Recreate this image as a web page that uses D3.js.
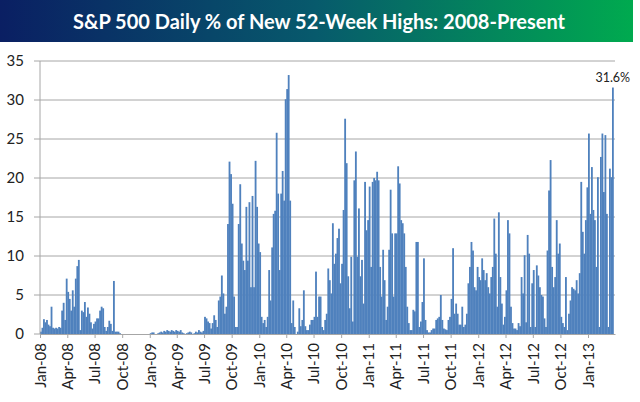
<!DOCTYPE html>
<html>
<head>
<meta charset="utf-8">
<script src="https://cdn.jsdelivr.net/npm/d3@7/dist/d3.min.js"></script>
<style>
    body { margin: 0; background: #fff; }
    svg { display: block; font-family: Lato, "Open Sans", sans-serif; }
</style>
</head>
<body>
<div id="chart"></div>
<script>
// % of S&P 500 stocks at a new 52-week high.
// 18 readings per quarter (Jan-Mar, Apr-Jun, Jul-Sep, Oct-Dec), 2013 stops mid March
const pct2008 = [
    0.3, 0.8, 1.9, 1.5, 1.8, 1.2, 1.0, 3.5, 0.8, 0.7, 0.8, 0.7, 0.9, 0.8, 3.0, 4.0, 1.8, 7.1,
    5.4, 4.5, 3.0, 5.6, 3.5, 7.1, 8.7, 9.5, 0.5, 3.0, 2.8, 4.1, 2.2, 3.4, 2.6, 1.5, 0.7, 1.3,
    1.6, 2.0, 2.0, 3.0, 3.5, 3.3, 0.9, 0.4, 0.9, 1.7, 1.3, 0.4, 6.8, 0.3, 0.3, 0.3, 0.1, 0,
    0, 0, 0, 0, 0, 0, 0, 0, 0, 0, 0, 0, 0, 0, 0, 0, 0, 0
]
const pct2009 = [
    0.1, 0.2, 0.2, 0, 0, 0.1, 0.2, 0.3, 0.2, 0.4, 0.3, 0.5, 0.4, 0.3, 0.5, 0.4, 0.3, 0.5,
    0.4, 0.3, 0.5, 0.2, 0.1, 0, 0.1, 0.2, 0.3, 0.2, 0, 0.1, 0.3, 0.2, 0.5, 0.3, 0.2, 0.4,
    2.2, 2.0, 1.6, 1.4, 0.7, 1.4, 2.4, 1.8, 0.9, 4.3, 4.8, 7.5, 5.2, 2.6, 3.5, 14.1, 22.1, 20.5,
    16.7, 4.8, 0.9, 0.9, 14.1, 19.2, 11.6, 9.4, 8.2, 16.3, 9.4, 16.9, 6.0, 17.7, 6.0, 22.2, 16.3, 11.6
]
const pct2010 = [
    10.5, 2.2, 1.4, 1.8, 0.9, 2.2, 8.2, 4.3, 11.1, 15.4, 15.8, 25.8, 18.0, 8.2, 18.0, 20.9, 17.1, 30.1,
    31.4, 33.2, 17.1, 1.4, 4.3, 0.9, 0.0, 0.3, 3.3, 1.0, 1.8, 5.6, 1.0, 0.5, 0.5, 1.2, 1.8, 1.8,
    2.2, 8.0, 2.2, 4.8, 4.8, 0.9, 0.5, 1.8, 2.6, 8.4, 6.9, 5.2, 14.2, 9.0, 10.3, 12.3, 13.5, 6.5,
    9.0, 15.9, 27.6, 21.9, 7.4, 3.3, 9.9, 1.6, 19.7, 23.4, 9.9, 16.1, 7.4, 9.5, 3.9, 19.5, 13.3, 14.6
]
const pct2011 = [
    18.9, 8.6, 19.5, 20.0, 19.7, 20.8, 19.7, 8.6, 4.8, 10.8, 6.9, 1.8, 3.5, 10.8, 18.5, 12.9, 4.8, 12.9,
    12.9, 21.5, 19.3, 14.6, 14.2, 12.9, 8.6, 3.5, 1.4, 0.5, 0.5, 3.1, 2.9, 11.8, 11.8, 0.9, 1.6, 4.1,
    9.7, 1.8, 0.5, 0.2, 0.2, 0.5, 0.7, 0.7, 1.8, 2.0, 2.2, 5.0, 1.8, 0.7, 0.6, 0.5, 1.8, 2.2,
    4.5, 11.0, 2.6, 3.9, 2.6, 1.2, 1.2, 3.5, 0.9, 1.2, 2.6, 6.5, 8.6, 11.8, 10.7, 6.0, 5.6, 8.6
]
const pct2012 = [
    7.3, 6.9, 9.7, 8.2, 6.9, 7.8, 6.0, 5.2, 7.3, 8.6, 14.8, 10.3, 3.5, 15.6, 7.3, 3.9, 1.2, 2.2,
    5.6, 14.6, 12.9, 3.5, 1.4, 0.7, 0.7, 0.5, 1.4, 1.0, 7.3, 5.2, 10.1, 1.5, 12.7, 10.3, 0.9, 6.5,
    8.2, 0.9, 8.8, 7.5, 6.0, 5.0, 4.8, 2.0, 0.9, 10.7, 18.4, 22.3, 8.6, 6.0, 7.3, 14.6, 10.3, 11.6,
    2.2, 1.4, 0.9, 7.3, 0.5, 2.6, 4.3, 6.0, 5.8, 5.6, 6.9, 5.2, 7.8, 19.5, 13.1, 10.3, 14.6, 18.8
]
const pct2013 = [
    25.7, 15.4, 21.4, 15.9, 14.6, 8.6, 20.1, 0.9, 22.7, 25.7, 18.2, 25.5, 15.4, 0.9, 21.2, 20.1, 31.6
]

const yTicks = [0, 5, 10, 15, 20, 25, 30, 35]
const lastLabel = "31.6%"
const title = "S&P 500 Daily % of New 52-Week Highs: 2008-Present"


class HighsChart {
    constructor(parentElement, series) {
        this.parentElement = parentElement;
        this.series = series;
        this.perQuarter = 18;
    }

    initVis() {
        let vis = this;
        vis.width = 640;
        vis.height = 402;
        vis.margin = {top: 61, right: 25, bottom: 68, left: 40};

        vis.svg = d3.select("#" + vis.parentElement).append("svg")
            .attr("width", vis.width)
            .attr("height", vis.height)

        // title banner
        let grad = vis.svg.append("defs").append("linearGradient")
            .attr("id", "banner")
        grad.append("stop").attr("offset", "0%").attr("stop-color", "#0a1f63")
        grad.append("stop").attr("offset", "50%").attr("stop-color", "#075a6c")
        grad.append("stop").attr("offset", "100%").attr("stop-color", "#00aa4f")

        vis.svg.append("rect")
            .attr("x", 0)
            .attr("y", 0)
            .attr("width", 633)
            .attr("height", 42)
            .attr("fill", "url(#banner)")

        vis.svg.append("text")
            .text(title)
            .attr("x", 319)
            .attr("y", 28.5)
            .attr("text-anchor", "middle")
            .attr("font-size", 20)
            .attr("font-weight", "bold")
            .attr("fill", "white")

        vis.x = d3.scaleTime()
            .domain([new Date(2008, 0, 1), new Date(2013, 3, 1)])
            .range([vis.margin.left, vis.width - vis.margin.right])
        vis.y = d3.scaleLinear()
            .domain([0, 35])
            .range([vis.height - vis.margin.bottom, vis.margin.top])

        this.wrangleData()
    }

    wrangleData() {
        let vis = this;
        vis.rows = []
        vis.series.forEach(function([year, values]) {
            values.forEach(function(v, i) {
                let q = Math.floor(i / vis.perQuarter), j = i % vis.perQuarter;
                let start = new Date(year, q * 3, 1), end = new Date(year, q * 3 + 3, 1);
                let span = end - start;
                vis.rows.push({
                    date: new Date(+start + span * j / vis.perQuarter),
                    next: new Date(+start + span * (j + 1) / vis.perQuarter),
                    value: v
                })
            })
        })
        vis.updateVis()
    }

    updateVis() {
        let vis = this;
        let x0 = vis.margin.left, x1 = vis.width - vis.margin.right;

        // gridlines + y labels
        vis.svg.append("g").selectAll("line")
            .data(yTicks.filter(d => d > 0))
            .enter().append("line")
            .attr("x1", x0 - 6)
            .attr("x2", x1)
            .attr("y1", d => vis.y(d))
            .attr("y2", d => vis.y(d))
            .attr("stroke", "#a6a6a6")
            .attr("stroke-width", 1)

        vis.svg.append("line")
            .attr("x1", x0 - 6).attr("x2", x0)
            .attr("y1", vis.y(0)).attr("y2", vis.y(0))
            .attr("stroke", "#a6a6a6")

        vis.svg.append("g").selectAll("text")
            .data(yTicks)
            .enter().append("text")
            .text(d => d)
            .attr("x", x0 - 16)
            .attr("y", d => vis.y(d))
            .attr("dy", "0.35em")
            .attr("text-anchor", "end")
            .attr("font-size", 15)
            .attr("fill", "#222")

        // bars (a hair wider than their slot so neighbours don't leave seams)
        vis.svg.append("g").selectAll("rect")
            .data(vis.rows.filter(d => d.value > 0))
            .enter().append("rect")
            .attr("x", d => vis.x(d.date))
            .attr("width", d => vis.x(d.next) - vis.x(d.date) + 0.3)
            .attr("y", d => vis.y(d.value))
            .attr("height", d => vis.y(0) - vis.y(d.value))
            .attr("fill", "#4f81bd")

        // y axis line
        vis.svg.append("line")
            .attr("x1", x0).attr("x2", x0)
            .attr("y1", vis.y(35)).attr("y2", vis.y(0))
            .attr("stroke", "#a6a6a6")

        // x axis, one tick per quarter
        let xAxis = d3.axisBottom(vis.x)
            .tickValues(d3.timeMonth.range(new Date(2008, 0, 1), new Date(2013, 1, 1), 3))
            .tickFormat(d3.timeFormat("%b-%y"))
            .tickSize(4)
            .tickSizeOuter(0)

        let ax = vis.svg.append("g")
            .attr("transform", "translate(0," + vis.y(0) + ")")
            .call(xAxis)
        ax.select(".domain").attr("stroke", "#a6a6a6")
        ax.selectAll(".tick line").attr("stroke", "#a6a6a6")
        ax.selectAll(".tick text")
            .attr("transform", "rotate(-90)")
            .attr("text-anchor", "end")
            .attr("x", -9)
            .attr("y", 0)
            .attr("dy", "0.35em")
            .attr("font-size", 15)
            .attr("font-family", "Lato, 'Open Sans', sans-serif")
            .attr("fill", "#222")

        // label on the latest reading
        let last = vis.rows[vis.rows.length - 1]
        vis.svg.append("text")
            .text(lastLabel)
            .attr("x", (vis.x(last.date) + vis.x(last.next)) / 2)
            .attr("y", vis.y(last.value) - 6)
            .attr("text-anchor", "middle")
            .attr("font-size", 12.5)
            .attr("fill", "#222")
    }
}

let chart = new HighsChart("chart", [
    [2008, pct2008], [2009, pct2009], [2010, pct2010],
    [2011, pct2011], [2012, pct2012], [2013, pct2013]
])
chart.initVis()
</script>
</body>
</html>
